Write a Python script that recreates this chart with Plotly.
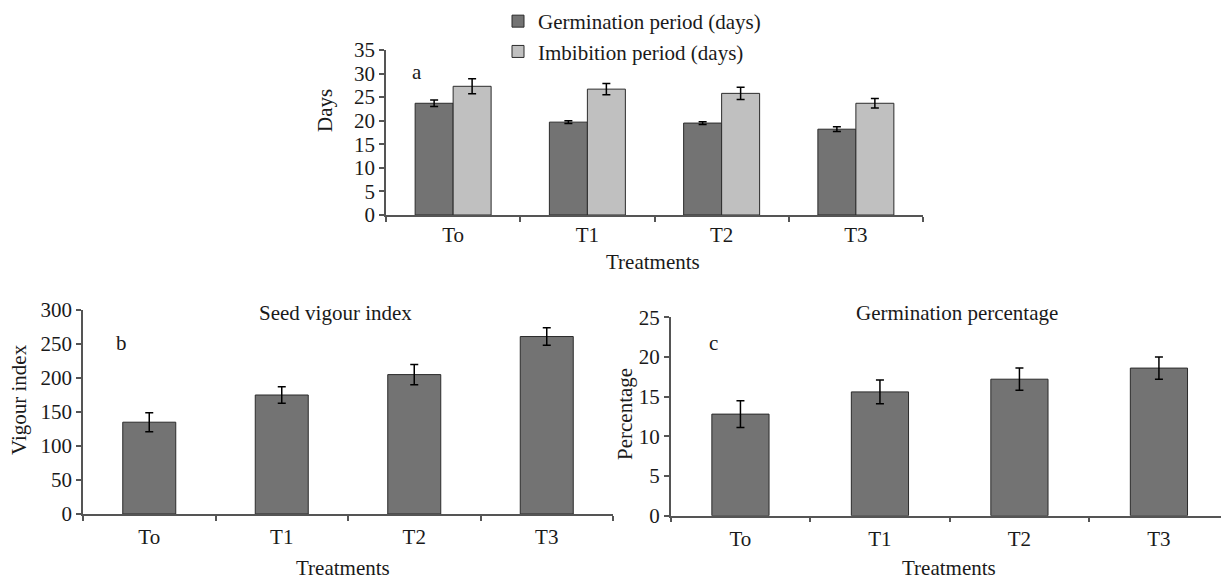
import plotly.graph_objects as go

# Treatment groups shared by all three panels
treatments = ["To", "T1", "T2", "T3"]

# Panel a: germination and imbibition periods (days)
germination_days = [23.7, 19.7, 19.5, 18.2]
germination_days_err = [0.7, 0.3, 0.3, 0.5]
imbibition_days = [27.3, 26.7, 25.8, 23.7]
imbibition_days_err = [1.6, 1.2, 1.3, 1.0]

# Panel b: seed vigour index
vigour_index = [135, 175, 205, 261]
vigour_index_err = [14, 12, 15, 13]

# Panel c: germination percentage
germination_pct = [12.8, 15.6, 17.2, 18.6]
germination_pct_err = [1.7, 1.5, 1.4, 1.4]

W, H = 1221, 580
FONT = "Liberation Serif"
FS = 21
TXT = "#1a1a1a"
DARK = "#737373"
LIGHT = "#c0c0c0"
EDGE = "#2b2b2b"
AXIS = "#555555"


def px_x(x):
    return x / W


def px_y(y):
    return 1 - y / H


err_style = dict(type="data", color="black", thickness=1.5, width=4, visible=True)

fig = go.Figure()

fig.add_trace(go.Bar(
    x=treatments, y=germination_days, name="Germination period (days)",
    marker=dict(color=DARK, line=dict(color=EDGE, width=1)),
    error_y=dict(array=germination_days_err, **err_style),
    xaxis="x", yaxis="y", legendgroup="g1",
))
fig.add_trace(go.Bar(
    x=treatments, y=imbibition_days, name="Imbibition period (days)",
    marker=dict(color=LIGHT, line=dict(color=EDGE, width=1)),
    error_y=dict(array=imbibition_days_err, **err_style),
    xaxis="x", yaxis="y", legendgroup="g2",
))
fig.add_trace(go.Bar(
    x=treatments, y=vigour_index, width=0.4, showlegend=False,
    marker=dict(color=DARK, line=dict(color=EDGE, width=1)),
    error_y=dict(array=vigour_index_err, **err_style),
    xaxis="x2", yaxis="y2",
))
fig.add_trace(go.Bar(
    x=treatments, y=germination_pct, width=0.41, showlegend=False,
    marker=dict(color=DARK, line=dict(color=EDGE, width=1)),
    error_y=dict(array=germination_pct_err, **err_style),
    xaxis="x3", yaxis="y3",
))

tick_font = dict(family=FONT, size=FS, color=TXT)

xcommon = dict(
    showline=True, linecolor=AXIS, linewidth=1.5, ticks="outside",
    tickson="boundaries", ticklen=5, tickcolor=AXIS, tickwidth=1.5,
    showgrid=False, zeroline=False, tickfont=tick_font, fixedrange=True,
    automargin=False,
)
ycommon = dict(
    showline=True, linecolor=AXIS, linewidth=1.5, ticks="outside",
    ticklen=5, tickcolor=AXIS, tickwidth=1.5, showgrid=False,
    zeroline=False, tickfont=tick_font, fixedrange=True, automargin=False,
)

layout = dict(
    width=W, height=H,
    margin=dict(l=0, r=0, t=0, b=0, autoexpand=False),
    paper_bgcolor="white", plot_bgcolor="white",
    barmode="group", bargap=0.434, bargroupgap=0,
    font=dict(family=FONT, size=FS, color=TXT),
    xaxis=dict(domain=[px_x(386), px_x(923)], anchor="y", range=[-0.5, 3.5],
               ticklabelstandoff=0, **xcommon),
    yaxis=dict(domain=[px_y(215), px_y(50)], anchor="x", range=[0, 35], dtick=5, **ycommon),
    xaxis2=dict(domain=[px_x(83), px_x(613)], anchor="y2", range=[-0.5, 3.5],
                ticklabelstandoff=3, **xcommon),
    yaxis2=dict(domain=[px_y(514), px_y(310)], anchor="x2", range=[0, 300], dtick=50, **ycommon),
    xaxis3=dict(domain=[px_x(670.7), 1.0], anchor="y3", range=[-0.5, 3.445],
                ticklabelstandoff=3, **xcommon),
    yaxis3=dict(domain=[px_y(515.7), px_y(317.3)], anchor="x3", range=[0, 25], dtick=5, **ycommon),
    legend=dict(
        x=px_x(498), y=px_y(1), xanchor="left", yanchor="top",
        bgcolor="rgba(0,0,0,0)", font=dict(family=FONT, size=FS, color=TXT),
        tracegroupgap=0, itemclick=False, itemdoubleclick=False,
    ),
    showlegend=True,
)

annotations = []


def label(text, x, y, angle=0):
    annotations.append(dict(
        text=text, x=px_x(x), y=px_y(y), xref="paper", yref="paper",
        showarrow=False, textangle=angle, xanchor="center", yanchor="middle",
        font=dict(family=FONT, size=FS, color=TXT),
    ))


# axis titles
label("Days", 325, 111, -90)
label("Treatments", 653, 262)
label("Vigour index", 19, 400, -90)
label("Treatments", 343, 568)
label("Percentage", 625, 414, -90)
label("Treatments", 949, 568)

# panel titles
label("Seed vigour index", 335, 313)
label("Germination percentage", 957, 313)

# panel letters
label("a", 417, 72)
label("b", 121, 343)
label("c", 714, 343)

layout["annotations"] = annotations
fig.update_layout(**layout)

fig.write_html("out.html")
